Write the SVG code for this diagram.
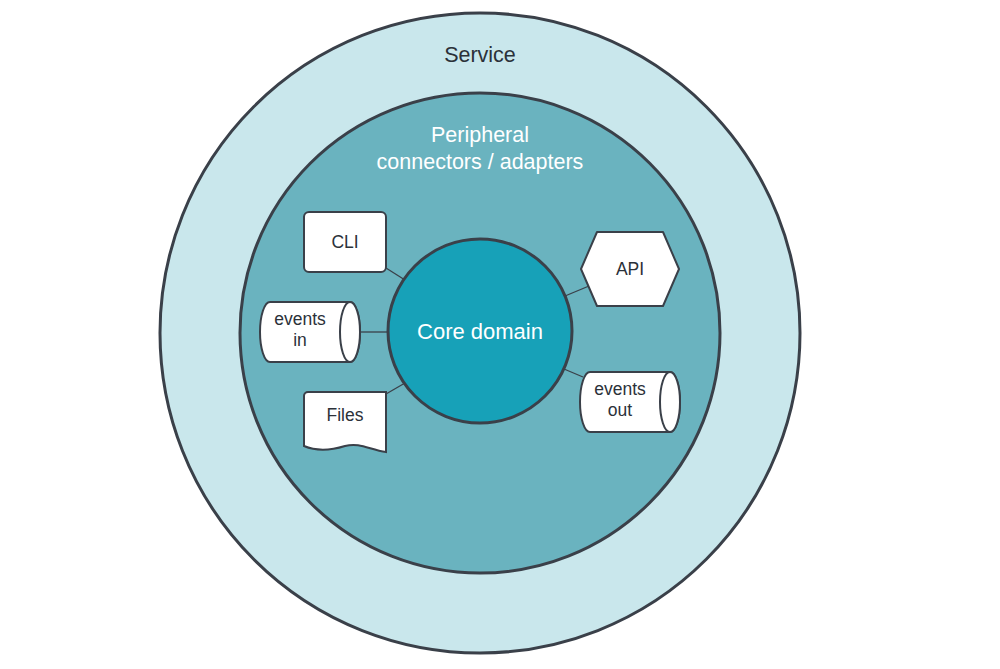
<svg xmlns="http://www.w3.org/2000/svg" width="1000" height="669" viewBox="0 0 1000 669">
<style>
.s{stroke:#3a4049;stroke-width:3}
.n{fill:#fff;stroke:#3a4049;stroke-width:2}
.c{stroke:#3a4049;stroke-width:1.3;fill:none}
text{font-family:"Liberation Sans",Arial,sans-serif;text-anchor:middle}
.d{fill:#2b3139;font-size:17.5px}
.w{fill:#fff}
.b{font-size:21.5px}
</style>
<rect width="1000" height="669" fill="#fff"/>
<g id="service"><circle cx="480" cy="333" r="320" fill="#c9e7ec" class="s"/>
<text x="480" y="62" class="d b">Service</text></g>
<g id="peripheral"><circle cx="480" cy="333" r="240" fill="#6ab3bf" class="s"/>
<text x="480" y="142" class="w b">Peripheral</text>
<text x="480" y="169" class="w b">connectors / adapters</text></g>
<g id="connectors">
<line x1="386" y1="268" x2="405" y2="280" class="c"/>
<line x1="360" y1="332" x2="388" y2="332" class="c"/>
<line x1="386" y1="394" x2="405" y2="383" class="c"/>
<line x1="565" y1="296" x2="589" y2="286" class="c"/>
<line x1="564" y1="369" x2="583" y2="377" class="c"/>
</g>
<g id="core"><circle cx="480" cy="331" r="92" fill="#17a1b8" class="s"/>
<text x="480" y="339" class="w" style="font-size:22px">Core domain</text></g>
<g id="cli"><rect x="304" y="212" width="82" height="60" rx="5" class="n"/>
<text x="345" y="248" class="d">CLI</text></g>
<g id="events-in"><path d="M270,302 H350 A10,30 0 0 1 350,362 H270 A10,30 0 0 1 270,302 Z" class="n"/>
<ellipse cx="350" cy="332" rx="10" ry="30" class="n"/>
<text x="300" y="325" class="d">events</text><text x="300" y="346" class="d">in</text></g>
<g id="files"><path d="M308,392 H386 V452 C370,450 360,442 345,446 C332,450 318,452 304,446 V396 A4,4 0 0 1 308,392 Z" class="n"/>
<text x="345" y="421" class="d">Files</text></g>
<g id="api"><path d="M597,232 H663 L679,269 L663,306 H597 L581,269 Z" class="n" stroke-linejoin="round"/>
<text x="630" y="275" class="d">API</text></g>
<g id="events-out"><path d="M590,372 H670 A10,30 0 0 1 670,432 H590 A10,30 0 0 1 590,372 Z" class="n"/>
<ellipse cx="670" cy="402" rx="10" ry="30" class="n"/>
<text x="620" y="395" class="d">events</text><text x="620" y="416" class="d">out</text></g>
</svg>
